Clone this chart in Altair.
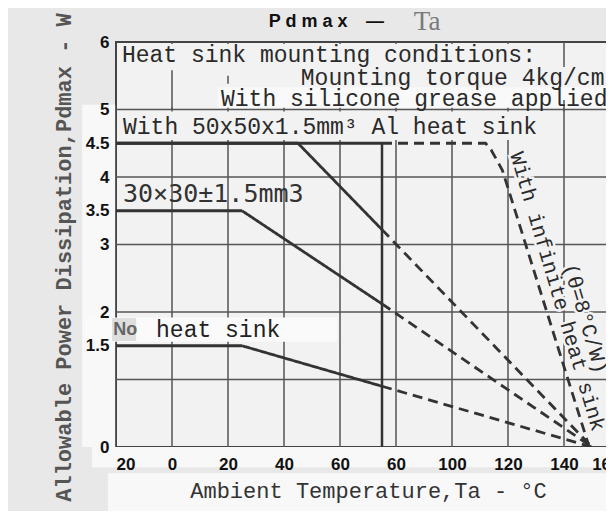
import altair as alt
import pandas as pd

# ---------------- data ----------------
# derating curves (Ta in degC, Pd in W); solid part up to 75 degC, dashed beyond
nohs_t = [-20, 25, 75, 150]
nohs_p = [1.5, 1.5, 0.9, 0.0]
hs30_t = [-20, 25, 75, 150]
hs30_p = [3.5, 3.5, 2.12, 0.0]
hs50_t = [-20, 45, 75, 150]
hs50_p = [4.5, 4.5, 3.22, 0.0]
inf_t = [-20, 75, 112, 114, 118, 149]
inf_p = [4.5, 4.5, 4.5, 4.4, 4.1, 0.0]
solid_limit = 75

x_ticks = [-20, 0, 20, 40, 60, 80, 100, 120, 140, 160]
y_ticks = [0, 1.5, 2, 3, 3.5, 4, 4.5, 5, 6]
grid_x = [0, 20, 40, 60, 80, 100, 120, 140]
grid_y = [1, 2, 3, 4, 5]

# ---------------- build tables ----------------
rows = []
for name, ts, ps in [("nohs", nohs_t, nohs_p), ("hs30", hs30_t, hs30_p),
                     ("hs50", hs50_t, hs50_p), ("inf", inf_t, inf_p)]:
    for i, (t, p) in enumerate(zip(ts, ps)):
        if t <= solid_limit:
            rows.append(dict(series=name, style="solid", t=t, p=p, o=i))
        if t >= solid_limit:
            rows.append(dict(series=name, style="dashed", t=t, p=p, o=i))
curves = pd.DataFrame(rows)

XMIN, XMAX, YMIN, YMAX = -20, 160, 0, 6
MONO = "Liberation Mono, DejaVu Sans Mono, monospace"
BOLD = "Liberation Sans, Arial, sans-serif"
BG = "#e8e8e8"
VIEW = "#f2f2f2"
PAPER = "#f8f8f8"
INK = "#2a2a2a"

xaxis = alt.Axis(
    values=x_ticks, grid=False, ticks=False, domain=False, zindex=1,
    labelExpr="datum.value == -20 ? '20' : (datum.value == 80 ? '60' : datum.label)",
    labelFont=BOLD, labelFontSize=17, labelFontWeight="bold", labelColor="#111",
    labelPadding=9, labelFlush=True, labelOverlap=False,
    title="Ambient  Temperature,Ta  - °C", titleFont=MONO, titleFontSize=22,
    titleFontWeight="normal", titleColor="#333", titleX=252, titleY=43,
    titleAlign="center", titleBaseline="middle",
)
yaxis = alt.Axis(
    values=y_ticks, format="~g", grid=False, ticks=False, domain=False, zindex=1,
    labelFont=BOLD, labelFontSize=17, labelFontWeight="bold", labelColor="#111",
    labelPadding=7, labelFlush=False, labelOverlap=False,
    title="Allowable Power Dissipation,Pdmax - W", titleFont=MONO, titleFontSize=22,
    titleFontWeight="bold", titleColor="#555", titleAngle=270, titleX=-53, titleY=215,
    titleAlign="center", titleBaseline="middle",
)
xs = alt.Scale(domain=[XMIN, XMAX], nice=False, zero=False)
ys = alt.Scale(domain=[YMIN, YMAX], nice=False, zero=False)


def X(f="t"):
    return alt.X(f"{f}:Q", scale=xs, axis=xaxis)


def Y(f="p"):
    return alt.Y(f"{f}:Q", scale=ys, axis=yaxis)


# paper tones outside the plot (scan paste-ups)
pap_t = [-32.1, -28.6, -22.9]
pap_t2 = [-20.3, 160, 160]
pap_p = [0, -0.3, -0.39]
pap_p2 = [5.07, 0, -1.1]
paper = pd.DataFrame({"t": pap_t, "t2": pap_t2, "p": pap_p, "p2": pap_p2})
pp = alt.Chart(paper).mark_rect(clip=False, color=PAPER).encode(
    x=X(), x2="t2:Q", y=Y(), y2="p2:Q")

# grid
vgrid = pd.DataFrame({"t": grid_x, "p": [YMIN] * len(grid_x), "p2": [YMAX] * len(grid_x)})
hgrid = pd.DataFrame({"t": [XMIN] * len(grid_y), "t2": [XMAX] * len(grid_y), "p": grid_y})
vg = alt.Chart(vgrid).mark_rule(color="#555", strokeWidth=1.5).encode(x=X(), y=Y(), y2="p2:Q")
hg = alt.Chart(hgrid).mark_rule(color="#555", strokeWidth=1.5).encode(x=X(), x2="t2:Q", y=Y())

# cover boxes behind text (scan paste-ups)
cov_t = [-19.6, -19.6, 16.4, -31, -21.4]
cov_t2 = [159.9, 159.9, 160, 59, -12.8]
cov_p = [5.03, 4.55, 5.03, 1.56, 1.57]
cov_p2 = [5.97, 4.97, 5.33, 1.92, 1.91]
cov_c = [VIEW, VIEW, "#f9f9f9", "#fafafa", "#dedede"]
covers = pd.DataFrame({"t": cov_t, "t2": cov_t2, "p": cov_p, "p2": cov_p2, "c": cov_c})
cv = alt.Chart(covers).mark_rect(clip=False).encode(
    x=X(), x2="t2:Q", y=Y(), y2="p2:Q", color=alt.Color("c:N", scale=None))

# grid fragments visible through the text area
fr_t = [0, 20, 140, 140]
fr_p = [5.0, 5.38, 5.63, 4.55]
fr_p2 = [5.58, 5.5, 5.97, 5.14]
frag = pd.DataFrame({"t": fr_t, "p": fr_p, "p2": fr_p2})
fg = alt.Chart(frag).mark_rule(color="#555", strokeWidth=1.5).encode(x=X(), y=Y(), y2="p2:Q")

# curves
ln = alt.Chart(curves).mark_line(color="#333", strokeWidth=2.8, clip=True).encode(
    x=X(), y=Y(), order="o:Q", detail=alt.Detail(["series:N", "style:N"]),
    strokeDash=alt.StrokeDash("style:N", scale=alt.Scale(domain=["solid", "dashed"],
                                                         range=[[1, 0], [10, 6]]), legend=None))

# 75 degC boundary
bnd = pd.DataFrame({"t": [solid_limit], "p": [0], "p2": [4.5]})
bd = alt.Chart(bnd).mark_rule(color="#333", strokeWidth=2.5).encode(x=X(), y=Y(), y2="p2:Q")

# notes
notes_txt = ["Heat sink mounting conditions:", "Mounting torque 4kg/cm",
             "With silicone grease applied", "With 50x50x1.5mm³ Al heat sink"]
notes_t = [-17.9, 46, 17.5, -17.5]
notes_p = [5.81, 5.47, 5.16, 4.74]
nt = alt.Chart(pd.DataFrame({"t": notes_t, "p": notes_p, "s": notes_txt})).mark_text(
    font=MONO, fontSize=23, align="left", baseline="middle", color=INK, clip=False
).encode(x=X(), y=Y(), text="s:N")

lab30 = alt.Chart(pd.DataFrame({"t": [-17.5], "p": [3.75], "s": ["30×30±1.5mm3"]})).mark_text(
    font="DejaVu Sans Mono", fontSize=25, align="left", baseline="middle", color="#333"
).encode(x=X(), y=Y(), text="s:N")

nohs1 = alt.Chart(pd.DataFrame({"t": [-21], "p": [1.73], "s": ["No"]})).mark_text(
    font=BOLD, fontSize=18, fontWeight="bold", align="left", baseline="middle",
    color="#666", clip=False).encode(x=X(), y=Y(), text="s:N")
nohs2 = alt.Chart(pd.DataFrame({"t": [-5.7], "p": [1.73], "s": ["heat sink"]})).mark_text(
    font=MONO, fontSize=23, align="left", baseline="middle", color="#222"
).encode(x=X(), y=Y(), text="s:N")

rot_txt = ["With infinite heat sink", "(θ=8°C/W)"]
rot_t = [137.5, 147.5]
rot_p = [2.30, 1.90]
rdf = pd.DataFrame({"t": rot_t, "p": rot_p, "s": rot_txt})
rot_halo = alt.Chart(rdf).mark_text(
    font=MONO, fontSize=21, angle=73.5, align="center", baseline="middle",
    color=VIEW, stroke=VIEW, strokeWidth=5, clip=False).encode(x=X(), y=Y(), text="s:N")
rot = alt.Chart(rdf).mark_text(
    font=MONO, fontSize=21, angle=73.5, align="center", baseline="middle",
    color=INK, clip=False).encode(x=X(), y=Y(), text="s:N")

# title
ttl_txt = ["P d m a x", "—"]
ttl_t = [48.6, 72.5]
ttl = alt.Chart(pd.DataFrame({"t": ttl_t, "p": [6.30, 6.30], "s": ttl_txt})).mark_text(
    font=BOLD, fontSize=18, fontWeight="bold", align="center", baseline="middle",
    color="#111", clip=False).encode(x=X(), y=Y(), text="s:N")
ttl2 = alt.Chart(pd.DataFrame({"t": [91.1], "p": [6.30], "s": ["Ta"]})).mark_text(
    font="Liberation Serif", fontSize=27, align="center", baseline="middle",
    color="#7a7a7a", clip=False).encode(x=X(), y=Y(), text="s:N")

chart = alt.layer(
    pp, vg, hg, cv, fg, bd, ln, nt, lab30, nohs1, nohs2, rot_halo, rot, ttl, ttl2
).properties(
    width=504, height=405,
    autosize=alt.AutoSizeParams(type="none"),
    padding={"left": 108, "top": 34, "right": -14, "bottom": 64},
    background=BG,
).configure_view(
    fill=VIEW, stroke="#444", strokeWidth=2
)

chart.save("out.html", embed_options={"renderer": "svg", "actions": False})
